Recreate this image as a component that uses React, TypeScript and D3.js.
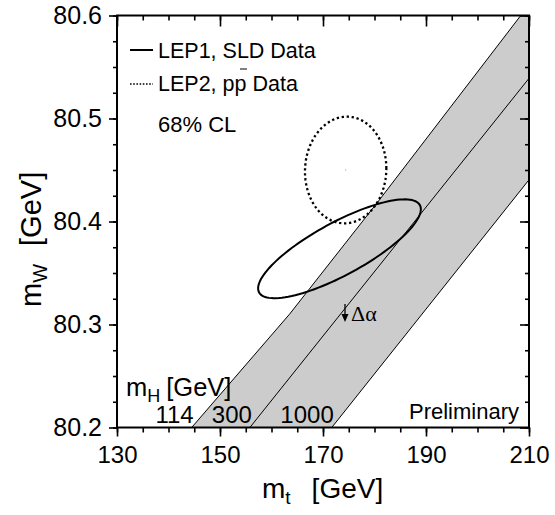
import { useEffect, useRef } from 'react';
import * as d3 from 'd3';

const width = 555;
const height = 515;
const left = 117;
const right = 529;
const top = 15.5;
const bottom = 427.5;

const mtDomain = [130, 210];
const mwDomain = [80.2, 80.6];
const mtLabels = [130, 150, 170, 190, 210];
const mwLabels = [80.2, 80.3, 80.4, 80.5, 80.6];
const mtStep = 5;
const mwStep = 0.025;

// SM prediction lines for m_H = 114, 300, 1000 GeV, points [mt, mW]
const line114 = [[144.5, 80.2], [163.5, 80.31], [180.8, 80.42], [208.4, 80.6]];
const line300 = [[155.8, 80.2], [210, 80.539]];
const line1000 = [[171.7, 80.2], [210, 80.4405]];
const higgsLabels = ['114', '300', '1000'];

// 68% CL contours: centre [mt, mW], half extents [mt, mW], correlation
const lep1Centre = [173.2, 80.3735];
const lep1Extent = [15.8, 0.048];
const lep1Rho = 0.8;
const lep2Centre = [174.4, 80.45];
const lep2Extent = [7.9, 0.0518];
const lep2Rho = 0.03;

const font = 'Liberation Sans, Arial, sans-serif';

const x = d3.scaleLinear().domain(mtDomain).range([left, right]);
const y = d3.scaleLinear().domain(mwDomain).range([bottom, top]);

const minorMt = d3.range(mtDomain[0], mtDomain[1] + 0.01, mtStep);
const minorMw = d3.range(0, 17).map((i) => mwDomain[0] + i * mwStep);

const path = d3
  .line<number[]>()
  .x((d) => x(d[0]))
  .y((d) => y(d[1]));

const contour = (c: number[], e: number[], rho: number) =>
  d3.range(0, 361, 3).map((deg) => {
    const t = (deg * Math.PI) / 180;
    return [c[0] + e[0] * Math.cos(t), c[1] + e[1] * (rho * Math.cos(t) + Math.sqrt(1 - rho * rho) * Math.sin(t))];
  });

const Axis = (props: { axis: any; transform: string; size?: number }) => {
  const ref = useRef(null);
  useEffect(() => {
    if (ref.current) {
      const g = d3.select(ref.current);
      g.call(props.axis);
      g.select('.domain').remove();
      g.selectAll('line').attr('stroke', '#000').attr('stroke-width', 1.6);
      g.selectAll('text')
        .attr('font-family', font)
        .attr('font-size', props.size || 24)
        .attr('fill', '#000');
    }
  });
  return <g ref={ref} transform={props.transform} />;
};

export default function App() {
  const fmt = d3.format('.1f');
  const band = [...line114, [mtDomain[1], mwDomain[1]], ...[...line1000].reverse()];
  const lines = [line114, line300, line1000];

  return (
    <svg width={width} height={height} style={{ position: 'absolute', left: 0, top: 0, background: '#fff' }}>
      <defs>
        <clipPath id="frame">
          <rect x={left} y={top} width={right - left} height={bottom - top} />
        </clipPath>
      </defs>
      <rect width={width} height={height} fill="#fff" />

      <g clipPath="url(#frame)">
        <path d={path(band as number[][]) + 'Z'} fill="#cccccc" stroke="none" />
        {lines.map((l, i) => (
          <path key={i} d={path(l) as string} fill="none" stroke="#000" strokeWidth={1} />
        ))}
        <path
          d={path(contour(lep2Centre, lep2Extent, lep2Rho)) + 'Z'}
          fill="none"
          stroke="#000"
          strokeWidth={2.3}
          strokeDasharray="2.3,2.7"
        />
        <path d={path(contour(lep1Centre, lep1Extent, lep1Rho)) + 'Z'} fill="none" stroke="#000" strokeWidth={2} />
        <circle cx={x(lep2Centre[0])} cy={y(lep2Centre[1])} r={0.8} fill="#bbb" />
      </g>

      {/* axes */}
      <Axis
        axis={d3.axisBottom(x).tickValues(mtLabels).tickSize(9).tickPadding(9).tickFormat(d3.format('d'))}
        transform={`translate(0,${bottom})`}
      />
      <Axis axis={d3.axisBottom(x).tickValues(minorMt).tickSize(5).tickFormat(() => '')} transform={`translate(0,${bottom})`} />
      <Axis axis={d3.axisTop(x).tickValues(mtLabels).tickSize(-11).tickFormat(() => '')} transform={`translate(0,${top})`} />
      <Axis axis={d3.axisTop(x).tickValues(minorMt).tickSize(-5).tickFormat(() => '')} transform={`translate(0,${top})`} />
      <Axis
        axis={d3.axisLeft(y).tickValues(mwLabels).tickSize(8).tickPadding(7).tickFormat((d: any) => fmt(d))}
        transform={`translate(${left},0)`}
        size={25}
      />
      <Axis axis={d3.axisLeft(y).tickValues(minorMw).tickSize(4).tickFormat(() => '')} transform={`translate(${left},0)`} />
      <Axis axis={d3.axisRight(y).tickValues(mwLabels).tickSize(-9).tickFormat(() => '')} transform={`translate(${right},0)`} />
      <Axis axis={d3.axisRight(y).tickValues(minorMw).tickSize(-4).tickFormat(() => '')} transform={`translate(${right},0)`} />
      <rect x={left} y={top} width={right - left} height={bottom - top} fill="none" stroke="#000" strokeWidth={2} />

      {/* axis titles */}
      <text x={262} y={498} fontFamily={font} fontSize={28}>
        m<tspan fontSize={19} dy={6}>t</tspan>
        <tspan dy={-6} dx={21}>[GeV]</tspan>
      </text>
      <text transform="translate(41,307) rotate(-90)" fontFamily={font} fontSize={29}>
        m<tspan fontSize={20} dy={6}>W</tspan>
        <tspan dy={-6} dx={18}>[GeV]</tspan>
      </text>

      {/* legend */}
      <line x1={130} x2={153} y1={50} y2={50} stroke="#000" strokeWidth={2} />
      <text x={158} y={58} fontFamily={font} fontSize={21.5}>LEP1, SLD Data</text>
      <line x1={130} x2={153} y1={84} y2={84} stroke="#000" strokeWidth={1.6} strokeDasharray="1.6,1.6" />
      <text x={158} y={91} fontFamily={font} fontSize={21.5}>LEP2, pp Data</text>
      <line x1={240} x2={247} y1={69} y2={69} stroke="#000" strokeWidth={1} />
      <text x={158} y={132} fontFamily={font} fontSize={22}>68% CL</text>

      {/* Higgs mass labels */}
      <text x={126} y={396} fontFamily={font} fontSize={25.5}>
        m<tspan fontSize={18} dy={6}>H</tspan>
        <tspan dy={-6} dx={6}>[GeV]</tspan>
      </text>
      {lines.map((l, i) => (
        <text key={i} x={x(l[0][0]) + 2} y={423} textAnchor="end" fontFamily={font} fontSize={24}>
          {higgsLabels[i]}
        </text>
      ))}
      <text x={519} y={419} textAnchor="end" fontFamily={font} fontSize={22}>Preliminary</text>

      {/* delta alpha arrow */}
      <line x1={345} x2={345} y1={304} y2={320} stroke="#000" strokeWidth={1.3} />
      <path d="M341.5,314 L345,322 L348.5,314 Z" fill="#000" />
      <text x={351} y={321} fontFamily="Liberation Serif, serif" fontSize={22}>Δα</text>
    </svg>
  );
}
